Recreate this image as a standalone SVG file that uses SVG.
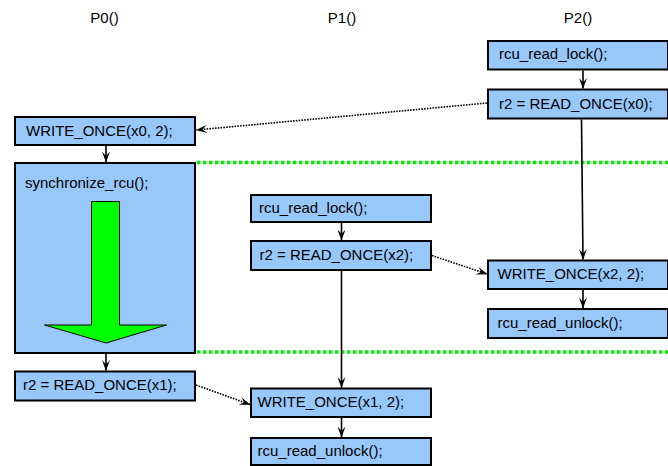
<svg xmlns="http://www.w3.org/2000/svg" width="668" height="466" viewBox="0 0 668 466">
<style>
.box{fill:#98c8fa;stroke:#000;stroke-width:2}
.t{font-family:"Liberation Sans",Arial,sans-serif;font-size:15px;fill:#000}
.title{font-family:"Liberation Sans",Arial,sans-serif;font-size:15px;fill:#000;text-anchor:middle}
.solid{fill:none;stroke:#000;stroke-width:1.6}
.dot{fill:none;stroke:#000;stroke-width:1.6;stroke-dasharray:1.6 1.2}
.sep{fill:none;stroke:#00ee00;stroke-width:3.5;stroke-dasharray:3.5 2.5}
</style>
<defs>
<marker id="ah" viewBox="0 0 11 8" refX="10.5" refY="4" markerWidth="11" markerHeight="8" markerUnits="userSpaceOnUse" orient="auto">
<path d="M0,0 L11,4 L0,8 L4.5,4 Z" fill="#000" stroke="none"/>
</marker>
</defs>
<rect width="668" height="466" fill="#fff"/>
<g id="titles">
<text class="title" x="104.5" y="23">P0()</text>
<text class="title" x="342" y="23">P1()</text>
<text class="title" x="578" y="23">P2()</text>
</g>
<g id="separators">
<line class="sep" x1="197" y1="162.5" x2="668" y2="162.5"/>
<line class="sep" x1="197" y1="352" x2="668" y2="352"/>
</g>
<g id="p0-write-x0"><rect class="box" x="15" y="117" width="180" height="28"/><text class="t" x="26" y="135.5">WRITE_ONCE(x0, 2);</text></g>
<g id="p0-sync"><rect class="box" x="15" y="163" width="180" height="190"/><text class="t" x="25" y="188">synchronize_rcu();</text>
<polygon points="91.5,201.5 119.5,201.5 119.5,325 166.5,325 106,343 44.5,325 91.5,325" fill="#00ff00" stroke="#000" stroke-width="1"/></g>
<g id="p0-read-x1"><rect class="box" x="15" y="371.5" width="180" height="29"/><text class="t" x="23" y="390">r2 = READ_ONCE(x1);</text></g>
<g id="p1-lock"><rect class="box" x="251" y="195" width="180" height="27"/><text class="t" x="259" y="213">rcu_read_lock();</text></g>
<g id="p1-read-x2"><rect class="box" x="251" y="241" width="180" height="29"/><text class="t" x="259.5" y="259.5">r2 = READ_ONCE(x2);</text></g>
<g id="p1-write-x1"><rect class="box" x="251" y="388.5" width="180" height="28.5"/><text class="t" x="257.5" y="406.5">WRITE_ONCE(x1, 2);</text></g>
<g id="p1-unlock"><rect class="box" x="251" y="438" width="180" height="27"/><text class="t" x="257.5" y="455.5">rcu_read_unlock();</text></g>
<g id="p2-lock"><rect class="box" x="488" y="41" width="180" height="28.5"/><text class="t" x="499" y="58.5">rcu_read_lock();</text></g>
<g id="p2-read-x0"><rect class="box" x="488" y="89.5" width="180" height="29"/><text class="t" x="499" y="108.5">r2 = READ_ONCE(x0);</text></g>
<g id="p2-write-x2"><rect class="box" x="488" y="260.5" width="180" height="28.5"/><text class="t" x="497.5" y="278.5">WRITE_ONCE(x2, 2);</text></g>
<g id="p2-unlock"><rect class="box" x="488" y="309" width="180" height="29"/><text class="t" x="497.5" y="327.5">rcu_read_unlock();</text></g>
<g id="connectors">
<line class="solid" x1="106" y1="146" x2="106" y2="162" marker-end="url(#ah)"/>
<line class="solid" x1="106" y1="354" x2="106" y2="370.5" marker-end="url(#ah)"/>
<line class="solid" x1="341.5" y1="223" x2="341.5" y2="240" marker-end="url(#ah)"/>
<line class="solid" x1="341.5" y1="271" x2="341.5" y2="387.5" marker-end="url(#ah)"/>
<line class="solid" x1="341.5" y1="418" x2="341.5" y2="437" marker-end="url(#ah)"/>
<line class="solid" x1="583" y1="70.5" x2="583" y2="88.5" marker-end="url(#ah)"/>
<line class="solid" x1="581.5" y1="119.5" x2="583" y2="259.5" marker-end="url(#ah)"/>
<line class="solid" x1="583" y1="290" x2="583" y2="308" marker-end="url(#ah)"/>
<line class="dot" x1="487" y1="103" x2="196.5" y2="130" marker-end="url(#ah)"/>
<line class="dot" x1="432" y1="255.5" x2="487" y2="274" marker-end="url(#ah)"/>
<line class="dot" x1="196" y1="385" x2="250" y2="404.5" marker-end="url(#ah)"/>
</g>
</svg>
